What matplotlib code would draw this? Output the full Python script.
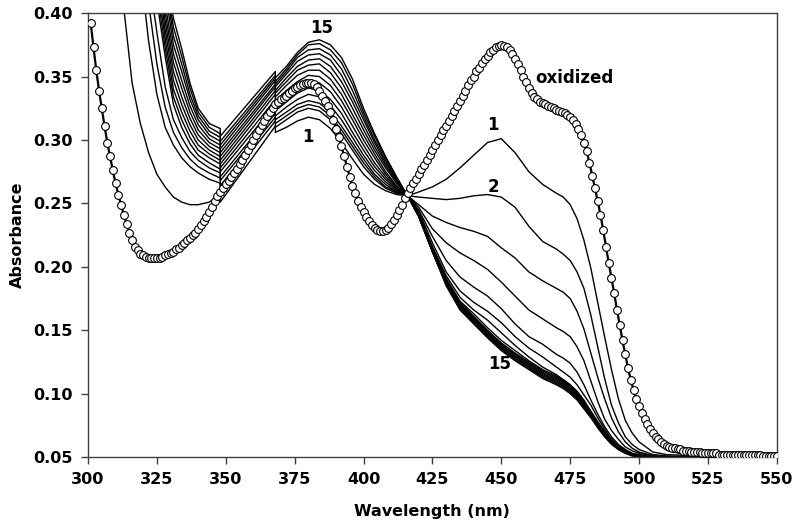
import numpy as np
import matplotlib
matplotlib.use("Agg")
import matplotlib.pyplot as plt

plt.rcParams['font.family'] = ['DejaVu Sans']
plt.rcParams['font.weight'] = 'bold'

# reduced spectra 1..15, three pieces split at the lamp/grating change (348 and 368 nm)
wl_a = [305, 310, 313, 316, 319, 322, 325, 328, 331, 334, 337, 340, 344, 348]
wl_b = [348, 368]
wl_c = [368, 372, 376, 380, 384, 388, 392, 396, 400, 404, 408, 412, 416,
        420, 425, 430, 435, 440, 445, 450, 455, 460, 465,
        470, 472.5, 475, 477.5, 480, 482.5, 485, 487.5, 490, 492.5, 495, 497.5,
        500, 505, 510, 520, 550]

abs_a = [
    [0.58, 0.47, 0.404, 0.345, 0.313, 0.290, 0.273, 0.263, 0.255, 0.251, 0.249, 0.249, 0.251, 0.257],
    [0.72, 0.62, 0.56, 0.50, 0.435, 0.378, 0.336, 0.310, 0.296, 0.286, 0.279, 0.274, 0.269, 0.266],
    [0.75, 0.65, 0.59, 0.53, 0.465, 0.408, 0.360, 0.326, 0.306, 0.294, 0.285, 0.279, 0.274, 0.270],
    [0.77, 0.67, 0.61, 0.55, 0.490, 0.430, 0.385, 0.342, 0.316, 0.302, 0.291, 0.284, 0.278, 0.274],
    [0.79, 0.69, 0.63, 0.57, 0.510, 0.455, 0.410, 0.366, 0.328, 0.310, 0.297, 0.288, 0.282, 0.277],
    [0.80, 0.70, 0.64, 0.58, 0.520, 0.465, 0.418, 0.373, 0.334, 0.316, 0.302, 0.292, 0.286, 0.281],
    [0.81, 0.71, 0.65, 0.59, 0.530, 0.475, 0.426, 0.380, 0.340, 0.322, 0.307, 0.296, 0.289, 0.284],
    [0.82, 0.72, 0.66, 0.60, 0.540, 0.485, 0.434, 0.387, 0.347, 0.328, 0.312, 0.300, 0.292, 0.287],
    [0.83, 0.73, 0.67, 0.61, 0.550, 0.495, 0.442, 0.394, 0.354, 0.334, 0.317, 0.304, 0.295, 0.290],
    [0.84, 0.74, 0.68, 0.62, 0.560, 0.505, 0.450, 0.401, 0.361, 0.341, 0.322, 0.308, 0.298, 0.293],
    [0.85, 0.75, 0.69, 0.63, 0.570, 0.515, 0.458, 0.408, 0.368, 0.347, 0.327, 0.312, 0.301, 0.296],
    [0.86, 0.76, 0.70, 0.64, 0.580, 0.525, 0.466, 0.418, 0.375, 0.354, 0.332, 0.316, 0.304, 0.299],
    [0.87, 0.77, 0.71, 0.65, 0.590, 0.535, 0.474, 0.425, 0.382, 0.360, 0.336, 0.319, 0.307, 0.302],
    [0.88, 0.78, 0.72, 0.66, 0.600, 0.545, 0.482, 0.432, 0.389, 0.366, 0.341, 0.322, 0.310, 0.305],
    [0.89, 0.79, 0.73, 0.67, 0.610, 0.555, 0.490, 0.440, 0.396, 0.372, 0.345, 0.325, 0.313, 0.309],
]

abs_b = [
    [0.251, 0.311], [0.260, 0.315], [0.264, 0.318], [0.268, 0.321],
    [0.271, 0.324], [0.275, 0.328], [0.278, 0.332], [0.281, 0.336],
    [0.284, 0.339], [0.287, 0.342], [0.290, 0.344], [0.293, 0.347],
    [0.296, 0.349], [0.299, 0.351], [0.303, 0.354],
]

abs_c = [
    [0.306, 0.310, 0.315, 0.318, 0.316, 0.309, 0.298, 0.285, 0.273, 0.265, 0.260, 0.257, 0.256,
     0.259, 0.263, 0.269, 0.278, 0.288, 0.298, 0.301, 0.290, 0.275, 0.265,
     0.258, 0.255, 0.249, 0.238, 0.221, 0.199, 0.172, 0.145, 0.119, 0.096, 0.079, 0.069,
     0.062, 0.054, 0.052, 0.051, 0.050],
    [0.310, 0.316, 0.322, 0.325, 0.323, 0.316, 0.305, 0.292, 0.279, 0.269, 0.262, 0.258, 0.256,
     0.255, 0.254, 0.253, 0.254, 0.256, 0.257, 0.255, 0.247, 0.232, 0.220,
     0.214, 0.210, 0.205, 0.196, 0.183, 0.162, 0.137, 0.112, 0.091, 0.077, 0.066, 0.060,
     0.056, 0.052, 0.051, 0.050, 0.050],
    [0.313, 0.319, 0.325, 0.328, 0.326, 0.319, 0.308, 0.295, 0.282, 0.271, 0.263, 0.259, 0.256,
     0.249, 0.240, 0.235, 0.231, 0.228, 0.224, 0.215, 0.207, 0.196, 0.189,
     0.183, 0.180, 0.175, 0.165, 0.151, 0.132, 0.113, 0.096, 0.081, 0.070, 0.062, 0.057,
     0.054, 0.051, 0.050, 0.050, 0.050],
    [0.316, 0.322, 0.328, 0.331, 0.329, 0.322, 0.311, 0.298, 0.285, 0.273, 0.265, 0.259, 0.256,
     0.247, 0.230, 0.219, 0.211, 0.205, 0.198, 0.188, 0.177, 0.166, 0.159,
     0.152, 0.149, 0.145, 0.137, 0.126, 0.110, 0.094, 0.080, 0.071, 0.064, 0.058, 0.055,
     0.053, 0.051, 0.050, 0.050, 0.050],
    [0.319, 0.326, 0.332, 0.336, 0.334, 0.327, 0.316, 0.302, 0.288, 0.276, 0.267, 0.260, 0.256,
     0.245, 0.224, 0.205, 0.192, 0.184, 0.177, 0.167, 0.155, 0.145, 0.139,
     0.131, 0.128, 0.124, 0.117, 0.107, 0.095, 0.084, 0.074, 0.066, 0.060, 0.056, 0.053,
     0.052, 0.050, 0.050, 0.050, 0.050],
    [0.323, 0.330, 0.337, 0.341, 0.339, 0.332, 0.321, 0.306, 0.292, 0.279, 0.269, 0.261, 0.256,
     0.244, 0.219, 0.196, 0.181, 0.172, 0.165, 0.156, 0.145, 0.136, 0.129,
     0.121, 0.117, 0.113, 0.107, 0.099, 0.091, 0.081, 0.072, 0.064, 0.059, 0.055, 0.052,
     0.051, 0.050, 0.050, 0.050, 0.050],
    [0.327, 0.335, 0.342, 0.346, 0.345, 0.338, 0.326, 0.311, 0.296, 0.282, 0.271, 0.262, 0.256,
     0.243, 0.216, 0.193, 0.176, 0.166, 0.158, 0.148, 0.138, 0.129, 0.121,
     0.115, 0.111, 0.107, 0.102, 0.095, 0.086, 0.077, 0.069, 0.062, 0.057, 0.054, 0.052,
     0.051, 0.050, 0.050, 0.050, 0.050],
    [0.331, 0.339, 0.346, 0.351, 0.350, 0.343, 0.331, 0.316, 0.300, 0.286, 0.273, 0.263, 0.256,
     0.241, 0.215, 0.191, 0.173, 0.163, 0.152, 0.142, 0.134, 0.126, 0.119,
     0.114, 0.111, 0.107, 0.101, 0.094, 0.086, 0.078, 0.070, 0.064, 0.058, 0.055, 0.053,
     0.051, 0.050, 0.050, 0.050, 0.050],
    [0.334, 0.343, 0.351, 0.355, 0.355, 0.348, 0.336, 0.320, 0.304, 0.289, 0.275, 0.264, 0.256,
     0.241, 0.214, 0.190, 0.172, 0.161, 0.150, 0.140, 0.132, 0.125, 0.118,
     0.113, 0.110, 0.106, 0.101, 0.093, 0.086, 0.077, 0.070, 0.063, 0.058, 0.055, 0.052,
     0.051, 0.050, 0.050, 0.050, 0.050],
    [0.337, 0.346, 0.355, 0.359, 0.360, 0.353, 0.341, 0.325, 0.308, 0.292, 0.278, 0.266, 0.256,
     0.240, 0.213, 0.189, 0.171, 0.160, 0.149, 0.139, 0.131, 0.124, 0.117,
     0.112, 0.109, 0.105, 0.100, 0.092, 0.085, 0.077, 0.069, 0.063, 0.058, 0.055, 0.052,
     0.051, 0.050, 0.050, 0.050, 0.050],
    [0.339, 0.349, 0.358, 0.363, 0.364, 0.358, 0.346, 0.330, 0.312, 0.295, 0.280, 0.267, 0.256,
     0.240, 0.213, 0.188, 0.170, 0.159, 0.148, 0.138, 0.130, 0.123, 0.116,
     0.111, 0.108, 0.104, 0.099, 0.092, 0.084, 0.076, 0.068, 0.062, 0.057, 0.054, 0.052,
     0.051, 0.050, 0.050, 0.050, 0.050],
    [0.342, 0.352, 0.362, 0.367, 0.368, 0.363, 0.351, 0.334, 0.316, 0.298, 0.282, 0.268, 0.256,
     0.240, 0.212, 0.187, 0.169, 0.158, 0.147, 0.137, 0.129, 0.122, 0.115,
     0.110, 0.107, 0.103, 0.098, 0.091, 0.083, 0.076, 0.068, 0.062, 0.057, 0.054, 0.052,
     0.051, 0.050, 0.050, 0.050, 0.050],
    [0.344, 0.354, 0.365, 0.371, 0.372, 0.367, 0.356, 0.339, 0.319, 0.300, 0.284, 0.269, 0.256,
     0.240, 0.212, 0.187, 0.168, 0.157, 0.146, 0.136, 0.128, 0.121, 0.114,
     0.109, 0.106, 0.102, 0.097, 0.090, 0.083, 0.075, 0.067, 0.061, 0.057, 0.054, 0.052,
     0.050, 0.050, 0.050, 0.050, 0.050],
    [0.346, 0.356, 0.367, 0.375, 0.376, 0.371, 0.361, 0.344, 0.322, 0.303, 0.286, 0.270, 0.256,
     0.240, 0.212, 0.186, 0.167, 0.156, 0.145, 0.135, 0.127, 0.120, 0.113,
     0.108, 0.105, 0.101, 0.096, 0.089, 0.082, 0.074, 0.067, 0.061, 0.056, 0.053, 0.051,
     0.050, 0.050, 0.050, 0.050, 0.050],
    [0.349, 0.358, 0.369, 0.377, 0.379, 0.375, 0.365, 0.348, 0.325, 0.305, 0.287, 0.271, 0.256,
     0.240, 0.212, 0.185, 0.166, 0.155, 0.144, 0.134, 0.126, 0.119, 0.112,
     0.107, 0.104, 0.100, 0.095, 0.088, 0.081, 0.073, 0.066, 0.060, 0.056, 0.053, 0.051,
     0.050, 0.050, 0.050, 0.050, 0.050],
]

# oxidized spectrum, 1 nm steps from 301 to 550 nm
ox_wl = np.arange(301, 551)
ox_abs = [
    0.392, 0.373, 0.355, 0.339, 0.325, 0.311, 0.298, 0.287, 0.276, 0.266,
    0.257, 0.249, 0.241, 0.234, 0.227, 0.221, 0.216, 0.213, 0.210, 0.209,
    0.208, 0.207, 0.207, 0.207, 0.207, 0.207, 0.208, 0.209, 0.210, 0.211,
    0.212, 0.214, 0.215, 0.217, 0.219, 0.221, 0.223, 0.225, 0.227, 0.230,
    0.233, 0.236, 0.239, 0.243, 0.247, 0.252, 0.256, 0.259, 0.262, 0.265,
    0.268, 0.271, 0.274, 0.277, 0.281, 0.284, 0.288, 0.292, 0.296, 0.300,
    0.304, 0.308, 0.312, 0.315, 0.319, 0.322, 0.325, 0.328, 0.330, 0.332,
    0.333, 0.335, 0.337, 0.339, 0.341, 0.342, 0.343, 0.344, 0.345, 0.345,
    0.345, 0.344, 0.342, 0.339, 0.335, 0.331, 0.327, 0.322, 0.316, 0.309,
    0.302, 0.295, 0.287, 0.279, 0.271, 0.264, 0.258, 0.252, 0.247, 0.243,
    0.239, 0.236, 0.233, 0.231, 0.229, 0.228, 0.228, 0.229, 0.231, 0.234,
    0.237, 0.241, 0.245, 0.249, 0.254, 0.258, 0.262, 0.266, 0.269, 0.273,
    0.277, 0.280, 0.284, 0.288, 0.292, 0.296, 0.300, 0.304, 0.308, 0.311,
    0.315, 0.319, 0.323, 0.327, 0.331, 0.335, 0.339, 0.343, 0.347, 0.350,
    0.354, 0.357, 0.361, 0.364, 0.366, 0.369, 0.371, 0.373, 0.374, 0.375,
    0.374, 0.373, 0.371, 0.368, 0.364, 0.360, 0.355, 0.350, 0.346, 0.341,
    0.337, 0.334, 0.332, 0.330, 0.329, 0.328, 0.327, 0.326, 0.325, 0.324,
    0.323, 0.322, 0.321, 0.320, 0.318, 0.316, 0.313, 0.309, 0.304, 0.298,
    0.291, 0.282, 0.272, 0.262, 0.252, 0.241, 0.229, 0.216, 0.203, 0.191,
    0.179, 0.166, 0.154, 0.142, 0.131, 0.120, 0.111, 0.103, 0.096, 0.090,
    0.085, 0.080, 0.076, 0.072, 0.069, 0.066, 0.064, 0.062, 0.060, 0.059,
    0.058, 0.057, 0.057, 0.056, 0.056, 0.055, 0.055, 0.055, 0.054, 0.054,
    0.054, 0.054, 0.053, 0.053, 0.053, 0.053, 0.053, 0.053, 0.052, 0.052,
    0.052, 0.052, 0.052, 0.052, 0.052, 0.052, 0.052, 0.052, 0.052, 0.052,
    0.052, 0.052, 0.052, 0.052, 0.051, 0.051, 0.051, 0.051, 0.051, 0.051,
]

x_ticks = [300, 325, 350, 375, 400, 425, 450, 475, 500, 525, 550]
y_ticks = [0.05, 0.10, 0.15, 0.20, 0.25, 0.30, 0.35, 0.40]

fig = plt.figure(figsize=(8.0, 5.26), dpi=100)
ax = fig.add_axes([0.110, 0.131, 0.861, 0.844])

for a, b, c in zip(abs_a, abs_b, abs_c):
    wl = wl_a + wl_b + wl_c
    ab = a + b + c
    ax.plot(wl, ab, color='black', lw=1.0, zorder=2)

ax.plot(ox_wl, ox_abs, color='black', lw=1.6, marker='o', markersize=5.6,
        markerfacecolor='white', markeredgecolor='black', markeredgewidth=0.8,
        zorder=3)

lab = dict(fontsize=12, fontweight='bold', ha='center', va='center')
ax.text(384.8, 0.388, '15', **lab)
ax.text(379.7, 0.302, '1', **lab)
ax.text(447.0, 0.312, '1', **lab)
ax.text(447.0, 0.263, '2', **lab)
ax.text(449.5, 0.123, '15', **lab)
ax.text(462.5, 0.349, 'oxidized', fontsize=12, fontweight='bold',
        ha='left', va='center')

ax.set_xlim(300, 550)
ax.set_ylim(0.05, 0.40)
ax.set_xticks(x_ticks)
ax.set_yticks(y_ticks)
ax.set_yticklabels(['%.2f' % v for v in y_ticks])
ax.tick_params(axis='both', direction='out', length=5, width=1.0,
               color='#404040', labelsize=11.5, pad=6)
for s in ax.spines.values():
    s.set_color('#404040')
    s.set_linewidth(1.0)

ax.set_xlabel('Wavelength (nm)', fontsize=11.5, fontweight='bold', labelpad=12)
ax.set_ylabel('Absorbance', fontsize=11.5, fontweight='bold', labelpad=6)

fig.savefig('out.png', dpi=100)
